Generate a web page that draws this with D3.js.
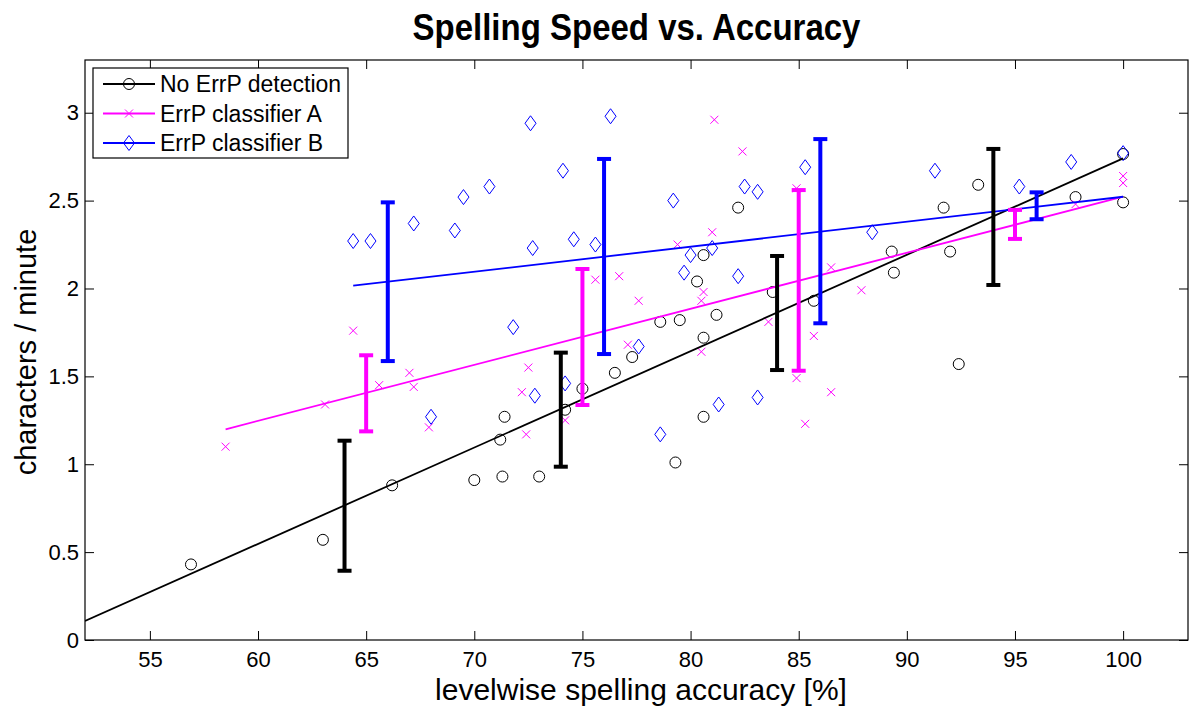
<!DOCTYPE html>
<html>
<head>
<meta charset="utf-8">
<script src="https://cdn.jsdelivr.net/npm/d3@7"></script>
<style>
  body { margin: 0; background: white; }
  text { font-family: "Liberation Sans", Arial, Helvetica, sans-serif; }
</style>
</head>
<body>
<script>
let w = 1200;
let h = 708;

// No ErrP detection (circles)
let noErrpX = [56.9, 63.0, 66.2, 70.0, 71.3, 73.0, 71.4, 71.2, 74.2, 75.0, 76.5, 77.3, 78.6, 79.5,
    80.6, 81.2, 80.3, 80.6, 80.6, 79.3, 83.8, 85.7, 89.4, 89.3, 82.2, 91.7, 92.0, 93.3, 97.8, 100, 92.4, 100]
let noErrpY = [0.43, 0.57, 0.88, 0.91, 0.93, 0.93, 1.27, 1.14, 1.31, 1.43, 1.52, 1.61, 1.81, 1.82,
    1.72, 1.85, 2.04, 2.19, 1.27, 1.01, 1.98, 1.93, 2.09, 2.21, 2.46, 2.46, 2.21, 2.59, 2.52, 2.49, 1.57, 2.765]

// ErrP classifier A (crosses)
let classAX = [58.5, 63.1, 64.4, 65.6, 67.0, 67.2, 67.9, 72.5, 72.2, 72.4, 74.2, 75.6, 76.7, 77.6,
    77.1, 79.4, 80.6, 80.5, 80.5, 81.0, 81.1, 82.4, 83.6, 84.9, 84.9, 85.7, 85.3, 86.5, 86.5, 87.9, 97.8, 100, 100]
let classAY = [1.10, 1.34, 1.76, 1.45, 1.52, 1.44, 1.21, 1.55, 1.41, 1.17, 1.25, 2.05, 2.07, 1.93,
    1.68, 2.25, 1.98, 1.93, 1.64, 2.32, 2.96, 2.78, 1.81, 1.49, 2.57, 1.73, 1.23, 1.41, 2.12, 1.99, 2.48, 2.64, 2.60]

// ErrP classifier B (diamonds)
let classBX = [64.4, 65.2, 67.2, 69.1, 69.5, 70.7, 72.6, 72.7, 74.1, 74.6, 75.6, 71.8, 76.3, 79.2,
    82.5, 83.1, 85.3, 81.0, 80.0, 79.7, 82.2, 88.4, 77.6, 78.6, 81.3, 83.1, 68.0, 72.8, 74.2, 91.3, 95.2, 97.6, 100]
let classBY = [2.27, 2.27, 2.37, 2.33, 2.52, 2.58, 2.94, 2.23, 2.67, 2.28, 2.25, 1.78, 2.98, 2.50,
    2.58, 2.55, 2.69, 2.23, 2.19, 2.09, 2.07, 2.32, 1.67, 1.17, 1.34, 1.38, 1.27, 1.39, 1.46, 2.67, 2.58, 2.72, 2.77]

// fitted lines: [x start, x end], [y start, y end]
let fitX = {none: [52, 100], a: [58.5, 100], b: [64.4, 100]}
let fitY = {none: [0.108, 2.74], a: [1.199, 2.522], b: [2.016, 2.522]}

// error bars: position, low, high
let barNoneX = [64, 74, 84, 94]
let barNoneLo = [0.394, 0.986, 1.536, 2.020]
let barNoneHi = [1.134, 1.635, 2.185, 2.794]
let barAX = [65, 75, 85, 95]
let barALo = [1.187, 1.337, 1.532, 2.282]
let barAHi = [1.620, 2.111, 2.560, 2.447]
let barBX = [66, 76, 86, 96]
let barBLo = [1.587, 1.627, 1.802, 2.394]
let barBHi = [2.490, 2.737, 2.850, 2.547]

let xTicks = [55, 60, 65, 70, 75, 80, 85, 90, 95, 100]
let yTicks = [0, 0.5, 1, 1.5, 2, 2.5, 3]
let legendLabels = ["No ErrP detection", "ErrP classifier A", "ErrP classifier B"]

let colNone = "#000000"
let colA = "#ff00ff"
let colB = "#0000ff"

let pLeft = 85, pRight = 1188, pTop = 60, pBottom = 640

let xScale = d3.scaleLinear().domain([52, 103]).range([pLeft, pRight])
let yScale = d3.scaleLinear().domain([0, 3.3]).range([pBottom, pTop])

let svg = d3.select("body")
    .append("svg")
    .attr("width", w)
    .attr("height", h)

svg.append("defs").append("clipPath")
    .attr("id", "plot")
    .append("rect")
    .attr("x", pLeft).attr("y", pTop)
    .attr("width", pRight - pLeft).attr("height", pBottom - pTop)

// axes, ticks pointing inward like matlab
svg.append("g")
    .attr("transform", `translate(0,${pBottom})`)
    .call(d3.axisBottom(xScale).tickValues(xTicks).tickSizeInner(-9).tickSizeOuter(0).tickPadding(11))
svg.append("g")
    .attr("transform", `translate(0,${pTop})`)
    .call(d3.axisTop(xScale).tickValues(xTicks).tickSizeInner(-9).tickSizeOuter(0).tickFormat(""))
svg.append("g")
    .attr("transform", `translate(${pLeft},0)`)
    .call(d3.axisLeft(yScale).tickValues(yTicks).tickSizeInner(-9).tickSizeOuter(0).tickPadding(6).tickFormat(d => String(d)))
svg.append("g")
    .attr("transform", `translate(${pRight},0)`)
    .call(d3.axisRight(yScale).tickValues(yTicks).tickSizeInner(-9).tickSizeOuter(0).tickFormat(""))

svg.selectAll(".domain").remove()
svg.selectAll(".tick line").attr("stroke", "#000").attr("stroke-width", 1)
svg.selectAll(".tick text")
    .attr("font-size", "22px")
    .attr("fill", "#000")
    .attr("font-family", "Liberation Sans, Arial, sans-serif")

svg.append("rect")
    .attr("x", pLeft).attr("y", pTop)
    .attr("width", pRight - pLeft).attr("height", pBottom - pTop)
    .attr("fill", "none")
    .attr("stroke", "#000")
    .attr("stroke-width", 1.2)

let plot = svg.append("g").attr("clip-path", "url(#plot)")

// scatter markers
let circle = (g, x, y, c) => g.append("circle").attr("cx", x).attr("cy", y).attr("r", 5.5)
    .attr("fill", "none").attr("stroke", c).attr("stroke-width", 1)
let cross = (g, x, y, c) => g.append("path").attr("d", `M${x-4},${y-4}L${x+4},${y+4}M${x-4},${y+4}L${x+4},${y-4}`)
    .attr("stroke", c).attr("stroke-width", 1).attr("fill", "none")
let diamond = (g, x, y, c) => g.append("path").attr("d", `M${x},${y-7.5}L${x+5.5},${y}L${x},${y+7.5}L${x-5.5},${y}Z`)
    .attr("stroke", c).attr("stroke-width", 1).attr("fill", "none")

noErrpX.forEach((d, i) => circle(plot, xScale(d), yScale(noErrpY[i]), colNone))
classAX.forEach((d, i) => cross(plot, xScale(d), yScale(classAY[i]), colA))
classBX.forEach((d, i) => diamond(plot, xScale(d), yScale(classBY[i]), colB))

// fit lines
let fits = [["none", colNone], ["a", colA], ["b", colB]]
fits.forEach(([k, c]) => {
    plot.append("line")
        .attr("x1", xScale(fitX[k][0])).attr("x2", xScale(fitX[k][1]))
        .attr("y1", yScale(fitY[k][0])).attr("y2", yScale(fitY[k][1]))
        .attr("stroke", c)
        .attr("stroke-width", 1.8)
})

// error bars
function errorBars(xs, lo, hi, c) {
    xs.forEach((d, i) => {
        let x = xScale(d)
        let g = plot.append("g").attr("stroke", c).attr("stroke-width", 4)
        g.append("line").attr("x1", x).attr("x2", x).attr("y1", yScale(lo[i])).attr("y2", yScale(hi[i]))
        g.append("line").attr("x1", x - 7).attr("x2", x + 7).attr("y1", yScale(lo[i])).attr("y2", yScale(lo[i]))
        g.append("line").attr("x1", x - 7).attr("x2", x + 7).attr("y1", yScale(hi[i])).attr("y2", yScale(hi[i]))
    })
}
errorBars(barNoneX, barNoneLo, barNoneHi, colNone)
errorBars(barAX, barALo, barAHi, colA)
errorBars(barBX, barBLo, barBHi, colB)

// legend
let legend = svg.append("g")
legend.append("rect")
    .attr("x", 93).attr("y", 68)
    .attr("width", 255).attr("height", 90)
    .attr("fill", "white")
    .attr("stroke", "#000")
    .attr("stroke-width", 1.2)

let markers = [circle, cross, diamond]
let colors = [colNone, colA, colB]
legendLabels.forEach((lab, i) => {
    let cy = 84 + i * 29.5
    legend.append("line")
        .attr("x1", 103).attr("x2", 155)
        .attr("y1", cy).attr("y2", cy)
        .attr("stroke", colors[i])
        .attr("stroke-width", 1.8)
    markers[i](legend, 129, cy, colors[i])
    legend.append("text")
        .attr("x", 160)
        .attr("y", cy + 8)
        .attr("font-size", "23px")
        .text(lab)
})

// titles
svg.append("text")
    .attr("transform", `translate(${(pLeft + pRight) / 2},40) scale(1,1.1)`)
    .attr("text-anchor", "middle")
    .attr("font-size", "33px")
    .attr("font-weight", "bold")
    .text("Spelling Speed vs. Accuracy")

svg.append("text")
    .attr("x", 641)
    .attr("y", 700)
    .attr("text-anchor", "middle")
    .attr("font-size", "30px")
    .text("levelwise spelling accuracy [%]")

svg.append("text")
    .attr("transform", "translate(36,352) rotate(-90)")
    .attr("text-anchor", "middle")
    .attr("font-size", "29px")
    .text("characters / minute")
</script>
</body>
</html>
